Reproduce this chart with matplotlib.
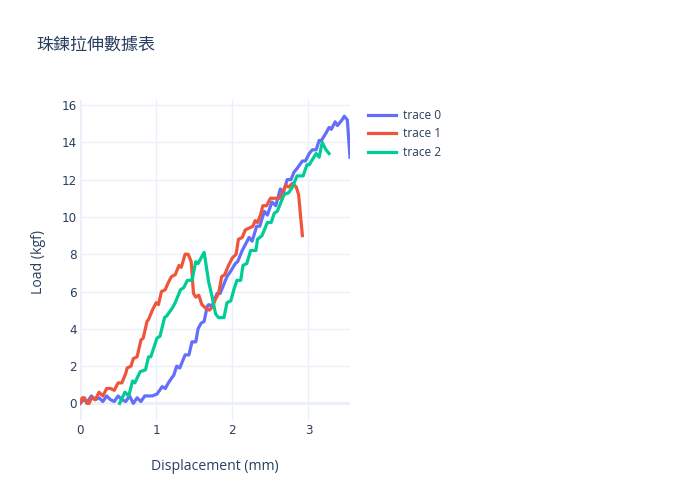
import matplotlib
matplotlib.use("Agg")
import matplotlib.pyplot as plt

# trace 0 (blue)
x0 = [0.0, 0.05, 0.1, 0.15, 0.2, 0.25, 0.3, 0.35, 0.4, 0.45, 0.5, 0.55, 0.6, 0.65, 0.7,
      0.75, 0.8, 0.85, 0.9, 0.95, 1.01, 1.08, 1.12, 1.16, 1.21, 1.23, 1.27, 1.31, 1.38,
      1.43, 1.47, 1.52, 1.55, 1.59, 1.63, 1.67, 1.69, 1.73, 1.80, 1.84, 1.93, 1.98, 2.04,
      2.07, 2.13, 2.22, 2.26, 2.32, 2.36, 2.42, 2.46, 2.52, 2.57, 2.63, 2.67, 2.72, 2.77,
      2.81, 2.85, 2.92, 2.96, 3.01, 3.05, 3.10, 3.14, 3.17, 3.23, 3.27, 3.30, 3.35, 3.38,
      3.44, 3.47, 3.51, 3.545]
y0 = [0.0, 0.2, 0.1, 0.4, 0.2, 0.3, 0.1, 0.4, 0.2, 0.1, 0.4, 0.2, 0.1, 0.4, 0.0,
      0.3, 0.1, 0.4, 0.4, 0.4, 0.5, 0.9, 0.8, 1.1, 1.4, 1.5, 2.0, 1.9, 2.6,
      2.6, 3.3, 3.3, 4.0, 4.3, 4.4, 5.2, 5.3, 5.2, 5.9, 5.9, 6.8, 7.1, 7.5,
      7.6, 8.2, 8.9, 8.7, 9.5, 9.5, 10.3, 10.1, 10.8, 10.6, 11.5, 11.3, 12.0, 12.0,
      12.4, 12.6, 13.0, 13.0, 13.4, 13.6, 13.6, 14.1, 14.1, 14.5, 14.8, 14.7, 15.1, 14.9,
      15.2, 15.4, 15.2, 13.2]

# trace 1 (red)
x1 = [0.0, 0.03, 0.06, 0.09, 0.12, 0.15, 0.2, 0.25, 0.3, 0.35, 0.4, 0.45, 0.5, 0.55,
      0.6, 0.62, 0.67, 0.7, 0.75, 0.8, 0.83, 0.88, 0.9, 0.95, 1.0, 1.03, 1.07, 1.12,
      1.15, 1.2, 1.25, 1.3, 1.33, 1.38, 1.42, 1.46, 1.49, 1.52, 1.56, 1.6, 1.65, 1.7,
      1.74, 1.78, 1.82, 1.86, 1.9, 1.95, 2.0, 2.05, 2.08, 2.13, 2.17, 2.22, 2.27, 2.3,
      2.33, 2.37, 2.4, 2.45, 2.5, 2.55, 2.62, 2.66, 2.7, 2.74, 2.79, 2.84, 2.87, 2.92]
y1 = [0.0, 0.3, 0.3, 0.0, 0.0, 0.3, 0.2, 0.6, 0.4, 0.8, 0.8, 0.7, 1.1, 1.1,
      1.6, 1.9, 2.0, 2.4, 2.5, 3.4, 3.5, 4.4, 4.5, 5.0, 5.4, 5.3, 6.0, 6.1,
      6.4, 6.8, 6.9, 7.4, 7.3, 8.0, 8.0, 7.6, 5.9, 5.7, 5.8, 5.3, 5.1, 5.0,
      5.2, 5.6, 5.9, 6.8, 6.9, 7.4, 7.8, 8.0, 8.8, 8.9, 9.3, 9.4, 9.5, 9.8,
      9.7, 10.1, 10.6, 10.6, 11.0, 11.0, 11.0, 11.3, 11.7, 11.6, 11.8, 11.6, 11.2, 9.0]

# trace 2 (green)
x2 = [0.52, 0.59, 0.64, 0.69, 0.72, 0.79, 0.86, 0.90, 0.93, 1.01, 1.05, 1.11, 1.14,
      1.21, 1.25, 1.32, 1.36, 1.41, 1.47, 1.52, 1.55, 1.63, 1.69, 1.73, 1.78, 1.82,
      1.89, 1.93, 1.98, 2.02, 2.06, 2.11, 2.14, 2.19, 2.24, 2.31, 2.33, 2.39, 2.46,
      2.51, 2.55, 2.59, 2.64, 2.68, 2.74, 2.79, 2.85, 2.93, 2.98, 3.01, 3.07, 3.10,
      3.14, 3.18, 3.23, 3.27]
y2 = [0.0, 0.6, 0.4, 1.2, 1.1, 1.7, 1.8, 2.5, 2.5, 3.5, 3.6, 4.6, 4.7,
      5.1, 5.4, 6.1, 6.2, 6.6, 6.6, 7.6, 7.5, 8.1, 6.5, 5.8, 4.8, 4.6,
      4.6, 5.4, 5.5, 6.1, 6.6, 6.6, 7.4, 7.5, 8.2, 8.2, 8.8, 9.0, 9.7,
      9.7, 10.2, 10.3, 10.8, 11.2, 11.3, 11.6, 12.2, 12.2, 12.8, 12.8, 13.2, 13.4,
      13.2, 14.0, 13.6, 13.4]

traces = [("trace 0", x0, y0, "#636EFA"),
          ("trace 1", x1, y1, "#EF553B"),
          ("trace 2", x2, y2, "#00CC96")]

W, H = 700, 500
fig = plt.figure(figsize=(W / 100, H / 100), dpi=100)
ax = fig.add_axes([80 / W, 80 / H, 270 / W, 320 / H])

txt = "#2a3f5f"
grid = "#EBF0F8"
plt.rcParams["font.family"] = ["Open Sans", "DejaVu Sans"]

for name, xs, ys, c in traces:
    ax.plot(xs, ys, color=c, lw=2.3, label=name, solid_joinstyle="round", zorder=3)

ax.set_xlim(0, 3.545)
ax.set_ylim(-0.89, 16.27)
ax.set_xticks([0, 1, 2, 3])
ax.set_yticks([0, 2, 4, 6, 8, 10, 12, 14, 16])
ax.grid(True, color=grid, lw=1, zorder=0)
ax.axhline(0, color=grid, lw=2, zorder=1)
ax.axvline(0, color=grid, lw=2, zorder=1)
for s in ax.spines.values():
    s.set_visible(False)
ax.tick_params(length=0, labelsize=8.64, labelcolor=txt)
ax.tick_params(axis="y", pad=2)
ax.tick_params(axis="x", pad=3)

fig.text(215 / W, 1 - 467 / H, "Displacement (mm)", ha="center", va="center",
         fontsize=10.08, color=txt)
fig.text(38 / W, 1 - 262 / H, "Load (kgf)", ha="center", va="center",
         rotation=90, fontsize=10.08, color=txt)
fig.text(36 / W, 1 - 45 / H, "珠鍊拉伸數據表", ha="left", va="center",
         fontsize=12.24, color=txt, family=["Noto Sans CJK TC", "DejaVu Sans"])

ax.legend(loc="upper left", bbox_to_anchor=(368 / W, 1 - 109 / H),
          bbox_transform=fig.transFigure, frameon=False, fontsize=8.64,
          labelcolor=txt, handlelength=2.3, handletextpad=0.6,
          labelspacing=0.45, borderpad=0, borderaxespad=0)

fig.savefig("out.png", dpi=100, facecolor="white")
